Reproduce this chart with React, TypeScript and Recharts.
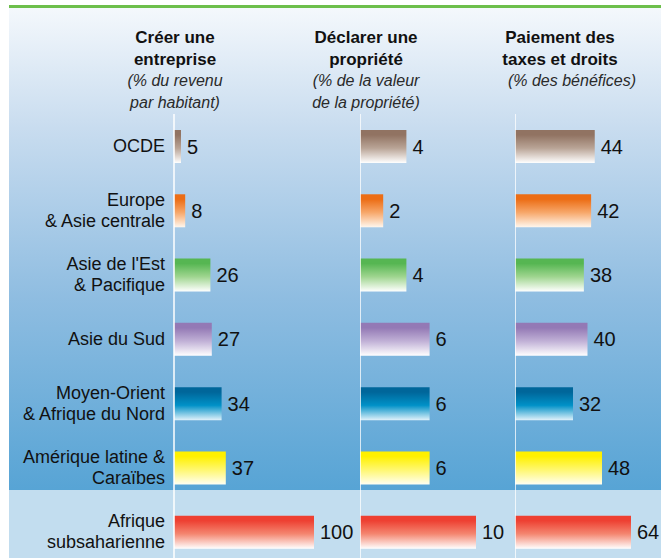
import React from 'react';
import { BarChart, Bar, XAxis, YAxis, Cell, LabelList, ReferenceLine } from 'recharts';

// Régions (lignes) — "\n" marque un retour à la ligne dans l'étiquette
const regions = [
  'OCDE',
  'Europe\n& Asie centrale',
  "Asie de l'Est\n& Pacifique",
  'Asie du Sud',
  'Moyen-Orient\n& Afrique du Nord',
  'Amérique latine &\nCaraïbes',
  'Afrique\nsubsaharienne',
];

const creerEntreprise = [5, 8, 26, 27, 34, 37, 100];
const declarerPropriete = [4, 2, 4, 6, 6, 6, 10];
const taxesDroits = [44, 42, 38, 40, 32, 48, 64];

// couleur haute / milieu / basse du dégradé de chaque barre
const regionColors = [
  ['#917362', '#b9a496', '#ffffff'],
  ['#ec6d15', '#f7a76a', '#fff7ee'],
  ['#56b652', '#9fd58f', '#ffffff'],
  ['#9379b5', '#c0b0d6', '#ffffff'],
  ['#00669a', '#0091c7', '#dff1fa'],
  ['#fff000', '#fff76e', '#fffff2'],
  ['#ee4032', '#f48670', '#ffffff'],
];

const FONT = '"Liberation Sans", Arial, Helvetica, sans-serif';

const data = regions.map((name, i) => ({
  name,
  creer: creerEntreprise[i],
  declarer: declarerPropriete[i],
  taxes: taxesDroits[i],
}));

const CHART_H = 570;
const MARGIN_TOP = 114;
const MARGIN_BOTTOM = 6;

function Gradients({ prefix }: { prefix: string }) {
  return (
    <defs>
      {regionColors.map((c, i) => (
        <linearGradient key={i} id={`${prefix}-g${i}`} x1="0" y1="0" x2="0" y2="1">
          <stop offset="0%" stopColor={c[0]} />
          <stop offset="15%" stopColor={c[0]} />
          <stop offset="55%" stopColor={c[1]} />
          <stop offset="100%" stopColor={c[2]} />
        </linearGradient>
      ))}
    </defs>
  );
}

function RegionTick(props: any) {
  const { x, y, payload } = props;
  const lines = String(payload.value).split('\n');
  const lh = 21;
  const start = -((lines.length - 1) * lh) / 2;
  return (
    <text x={x} y={y} textAnchor="end" fill="#111" fontSize={18} fontFamily={FONT}>
      {lines.map((l, i) => (
        <tspan key={i} x={x} dy={i === 0 ? start + 6 : lh}>
          {l}
        </tspan>
      ))}
    </text>
  );
}

interface PanelProps {
  dataKey: string;
  max: number;
  left: number;
  plotWidth: number;
  rightPad: number;
  withLabels?: boolean;
}

function Panel({ dataKey, max, left, plotWidth, rightPad, withLabels }: PanelProps) {
  const axisW = withLabels ? 174 : 0;
  return (
    <div style={{ position: 'absolute', left, top: 0 }}>
      <BarChart
        width={axisW + plotWidth + rightPad}
        height={CHART_H}
        data={data}
        layout="vertical"
        margin={{ top: MARGIN_TOP, right: rightPad, bottom: MARGIN_BOTTOM, left: 0 }}
      >
        <Gradients prefix={dataKey} />
        <XAxis type="number" domain={[0, max]} hide />
        <YAxis
          type="category"
          dataKey="name"
          hide={!withLabels}
          width={axisW}
          axisLine={false}
          tickLine={false}
          tickMargin={3}
          tick={<RegionTick />}
          interval={0}
        />
        <ReferenceLine x={0} stroke="#ffffff" strokeWidth={1.5} />
        <Bar dataKey={dataKey} barSize={33} isAnimationActive={false}>
          {data.map((_, i) => (
            <Cell key={i} fill={`url(#${dataKey}-g${i})`} />
          ))}
          <LabelList
            dataKey={dataKey}
            position="right"
            offset={6}
            fill="#111"
            fontSize={20}
            fontFamily={FONT}
          />
        </Bar>
      </BarChart>
    </div>
  );
}

const headerBold: React.CSSProperties = {
  fontWeight: 'bold',
  fontSize: 17,
  lineHeight: '21.5px',
  color: '#111',
};
const headerItalic: React.CSSProperties = {
  fontStyle: 'italic',
  fontSize: 16,
  lineHeight: '21.5px',
  color: '#2a2a2a',
};

function Header({ center, lines, italic, italicShift = 0 }: { center: number; lines: string[]; italic: string[]; italicShift?: number }) {
  return (
    <div
      style={{
        position: 'absolute',
        left: center - 100,
        width: 200,
        top: 27,
        textAlign: 'center',
        fontFamily: FONT,
        whiteSpace: 'nowrap',
      }}
    >
      {lines.map((l) => (
        <div key={l} style={headerBold}>{l}</div>
      ))}
      {italic.map((l) => (
        <div key={l} style={{ ...headerItalic, paddingLeft: italicShift }}>{l}</div>
      ))}
    </div>
  );
}

export default function App() {
  return (
    <div
      style={{
        position: 'absolute',
        left: 0,
        top: 0,
        width: 661,
        height: 558,
        overflow: 'hidden',
        background: '#ffffff',
        fontFamily: FONT,
      }}
    >
      <div style={{ position: 'absolute', left: 9, top: 5, right: 0, height: 3, background: '#6dbf4b' }} />
      <div
        style={{
          position: 'absolute',
          left: 9,
          top: 8,
          right: 0,
          height: 482,
          background: 'linear-gradient(to bottom, #f4f8fc 0%, #c8dcef 25%, #8fbde1 60%, #57a4d5 100%)',
        }}
      />
      <div style={{ position: 'absolute', left: 9, top: 490, right: 0, bottom: 0, background: '#c2ddef' }} />

      <Header center={175} lines={['Créer une', 'entreprise']} italic={['(% du revenu', 'par habitant)']} />
      <Header center={366} lines={['Déclarer une', 'propriété']} italic={['(% de la valeur', 'de la propriété)']} />
      <Header center={560} lines={['Paiement des', 'taxes et droits']} italic={['(% des bénéfices)']} italicShift={24} />

      <Panel dataKey="creer" max={100} left={0} plotWidth={140} rightPad={50} withLabels />
      <Panel dataKey="declarer" max={10} left={360} plotWidth={116} rightPad={50} />
      <Panel dataKey="taxes" max={64} left={515} plotWidth={116} rightPad={30} />
    </div>
  );
}
